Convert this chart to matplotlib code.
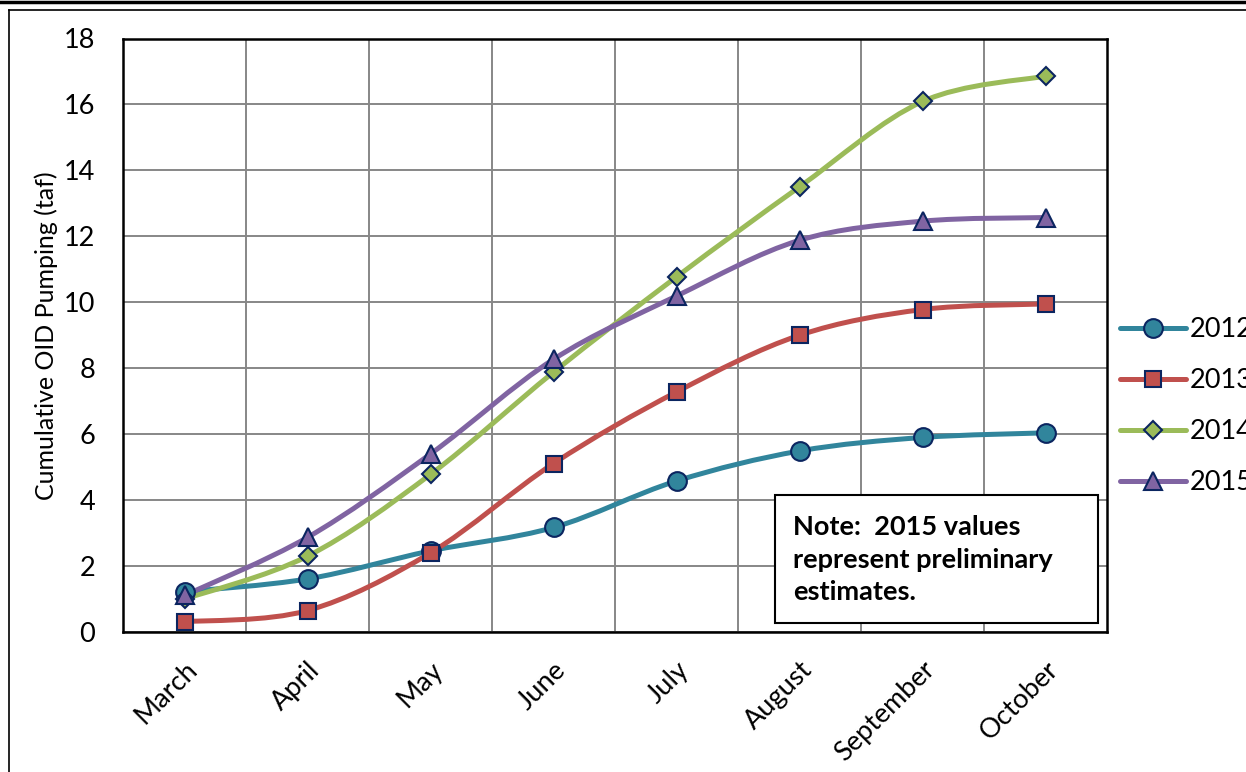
import matplotlib
matplotlib.use("Agg")
import matplotlib.pyplot as plt
from matplotlib.path import Path
from matplotlib.patches import PathPatch, Rectangle
from matplotlib.lines import Line2D

plt.rcParams["font.family"] = ["Lato", "DejaVu Sans"]

months = ["March", "April", "May", "June", "July", "August", "September", "October"]
years = ["2012", "2013", "2014", "2015"]
pump_2012 = [1.22, 1.61, 2.46, 3.17, 4.58, 5.49, 5.90, 6.04]
pump_2013 = [0.31, 0.65, 2.40, 5.11, 7.28, 9.00, 9.78, 9.95]
pump_2014 = [1.00, 2.30, 4.78, 7.88, 10.77, 13.50, 16.09, 16.86]
pump_2015 = [1.11, 2.87, 5.40, 8.27, 10.19, 11.88, 12.46, 12.57]
y_ticks = [0, 2, 4, 6, 8, 10, 12, 14, 16, 18]
note_text = "Note:  2015 values\nrepresent preliminary\nestimates."

series = [pump_2012, pump_2013, pump_2014, pump_2015]
colors = ["#31859C", "#C0504D", "#9BBB59", "#8064A2"]
markers = ["o", "s", "D", "^"]
msizes = [13.5, 11.5, 9.5, 12.5]
edge = "#0B2560"

W, H = 1246, 772
fig = plt.figure(figsize=(W / 100, H / 100), dpi=100)
ax = fig.add_axes([123 / W, 1 - 632 / H, (1107 - 123) / W, (632 - 38.5) / H])


def smooth_path(xs, ys):
    # Excel-style smoothed line: cubic Bezier segments (Catmull-Rom tangents)
    pts = list(zip(xs, ys))
    verts = [pts[0]]
    codes = [Path.MOVETO]
    n = len(pts)
    for i in range(n - 1):
        p0 = pts[max(i - 1, 0)]
        p1 = pts[i]
        p2 = pts[i + 1]
        p3 = pts[min(i + 2, n - 1)]
        c1 = (p1[0] + (p2[0] - p0[0]) / 6, p1[1] + (p2[1] - p0[1]) / 6)
        c2 = (p2[0] - (p3[0] - p1[0]) / 6, p2[1] - (p3[1] - p1[1]) / 6)
        verts += [c1, c2, p2]
        codes += [Path.CURVE4] * 3
    return Path(verts, codes)


x = list(range(len(months)))
handles = []
for vals, c, m, ms, lab in zip(series, colors, markers, msizes, years):
    ax.add_patch(PathPatch(smooth_path(x, vals), fill=False, edgecolor=c,
                           lw=3.6, capstyle="round", zorder=3))
    ax.plot(x, vals, ls="none", marker=m, ms=ms, mfc=c, mec=edge, mew=1.5,
            zorder=4, clip_on=False)
    handles.append(Line2D([], [], color=c, lw=3.6, marker=m, ms=ms, mfc=c,
                          mec=edge, mew=1.5, solid_capstyle="round"))

ax.set_xlim(-0.5, len(months) - 0.5)
ax.set_ylim(0, 18)
ax.set_yticks(y_ticks)
ax.set_yticklabels([str(v) for v in y_ticks], fontsize=19.5)
ax.set_xticks([i + 0.5 for i in range(len(months) - 1)], minor=False)
ax.set_xticklabels([])
ax.set_xticks(x, minor=True)
ax.set_xticklabels(months, minor=True, rotation=45, ha="right", va="top",
                   rotation_mode="anchor", fontsize=19.5)
ax.tick_params(axis="both", which="both", length=0)
ax.tick_params(axis="y", pad=20)
ax.tick_params(axis="x", which="minor", pad=18)
ax.grid(True, which="major", color="#878787", lw=1.4, zorder=1)
for s in ax.spines.values():
    s.set_linewidth(1.8)
    s.set_color("black")
ax.set_ylabel("Cumulative OID Pumping (taf)", fontsize=18, labelpad=4)

fig.legend(handles, years, loc="center left",
           bbox_to_anchor=(1109 / W, 1 - 406 / H), frameon=False,
           fontsize=19.5, handlelength=2.44, labelspacing=0.96,
           handletextpad=0.15, borderaxespad=0)

# note box
fig.add_artist(Rectangle((775 / W, 1 - 623 / H), (1098 - 775) / W, (623 - 495) / H,
                         transform=fig.transFigure, facecolor="white",
                         edgecolor="black", lw=1.5, zorder=5))
fig.text(793 / W, 1 - 559.5 / H, note_text, fontsize=19.5, fontweight="bold",
         ha="left", va="center", linespacing=1.42, zorder=6)

# outer frame lines
fig.add_artist(Line2D([0, 1], [1 - 1.5 / H, 1 - 1.5 / H], transform=fig.transFigure,
                      color="black", lw=2.5))
fig.add_artist(Line2D([9 / W, 1], [1 - 9.5 / H, 1 - 9.5 / H], transform=fig.transFigure,
                      color="black", lw=1.2))
fig.add_artist(Line2D([9 / W, 9 / W], [0, 1 - 9.5 / H], transform=fig.transFigure,
                      color="black", lw=1.2))

fig.savefig("out.png", dpi=100)
